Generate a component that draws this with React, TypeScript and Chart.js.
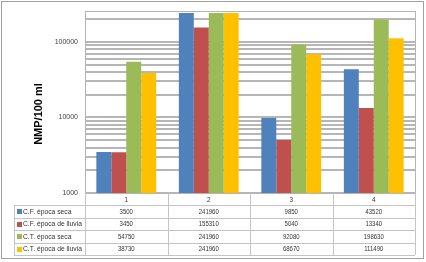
import React, { useEffect, useRef } from 'react';
import { Chart, registerables } from 'chart.js';
Chart.register(...registerables);

const categories = ['1', '2', '3', '4'];
const seriesNames = ['C.F. época seca', 'C.F. época de lluvia', 'C.T. época seca', 'C.T. época de lluvia'];
const cfSeca = [3500, 241960, 9850, 43520];
const cfLluvia = [3450, 155310, 5040, 13340];
const ctSeca = [54750, 241960, 92080, 198630];
const ctLluvia = [38730, 241960, 68670, 111490];
const seriesColors = ['#4F81BD', '#C0504D', '#9BBB59', '#FFC000'];
const yTickLabels = [1000, 10000, 100000];
const yMin = 1000;
const yMax = 255000;
const yTitle = 'NMP/100 ml';

const seriesValues = [cfSeca, cfLluvia, ctSeca, ctLluvia];

export default function App() {
  const ref = useRef<HTMLCanvasElement>(null);
  useEffect(() => {
    document.body.style.margin = '0';
    const gridValues: number[] = [];
    yTickLabels.forEach((d) => {
      for (let s = 1; s <= 9; s++) if (d * s <= yMax) gridValues.push(d * s);
    });

    const drawText = (ctx: CanvasRenderingContext2D, t: string, x: number, y: number, align: CanvasTextAlign, sx: number) => {
      ctx.save();
      ctx.translate(x, y);
      ctx.scale(sx, 1);
      ctx.textAlign = align;
      ctx.fillText(t, 0, 0);
      ctx.restore();
    };

    const tablePlugin = {
      id: 'tablePlugin',
      afterDraw(chart: any) {
        const ctx = chart.ctx as CanvasRenderingContext2D;
        const a = chart.chartArea;
        const colW = a.width / categories.length;
        const tableLeft = 14;
        const headerBottom = a.bottom + 12;
        const rowH = 12.5;
        const tableBottom = headerBottom + rowH * seriesNames.length;
        ctx.save();
        // plot border
        ctx.strokeStyle = '#b4b4b4';
        ctx.lineWidth = 1;
        ctx.strokeRect(Math.round(a.left) + 0.5, Math.round(a.top) + 0.5, Math.round(a.width), Math.round(a.height));
        // table lines
        ctx.strokeStyle = '#c4c4c4';
        ctx.beginPath();
        for (let r = 0; r <= seriesNames.length; r++) {
          const y = Math.round(headerBottom + r * rowH) + 0.5;
          ctx.moveTo(tableLeft, y);
          ctx.lineTo(a.right, y);
        }
        ctx.moveTo(tableLeft + 0.5, headerBottom);
        ctx.lineTo(tableLeft + 0.5, tableBottom);
        for (let c = 0; c <= categories.length; c++) {
          const x = Math.round(a.left + c * colW) + 0.5;
          ctx.moveTo(x, a.bottom);
          ctx.lineTo(x, tableBottom);
        }
        ctx.stroke();
        // text
        ctx.fillStyle = '#333333';
        ctx.font = "7.5px 'Liberation Sans'";
        ctx.textBaseline = 'middle';
        categories.forEach((c, i) => {
          drawText(ctx, c, a.left + (i + 0.5) * colW, a.bottom + 6.5, 'center', 0.85);
        });
        seriesNames.forEach((name, r) => {
          const yc = headerBottom + (r + 0.5) * rowH + 0.5;
          ctx.fillStyle = seriesColors[r];
          ctx.fillRect(17, Math.round(yc - 2.5), 5, 5);
          ctx.fillStyle = '#333333';
          drawText(ctx, name, 23, yc, 'left', 0.9);
          seriesValues[r].forEach((v, i) => {
            drawText(ctx, String(v), a.left + (i + 0.5) * colW, yc, 'center', 0.8);
          });
        });
        // outer border
        ctx.strokeStyle = '#a0a0a0';
        ctx.strokeRect(1.5, 1.5, 422, 257);
        // y title
        ctx.translate(39, 114);
        ctx.rotate(-Math.PI / 2);
        ctx.fillStyle = '#000';
        ctx.font = "bold 11px 'Liberation Sans'";
        ctx.textAlign = 'center';
        ctx.textBaseline = 'middle';
        ctx.fillText(yTitle, 0, 0);
        ctx.restore();
      },
    };

    const chart = new Chart(ref.current as HTMLCanvasElement, {
      type: 'bar',
      data: {
        labels: categories,
        datasets: seriesNames.map((n, i) => ({
          label: n,
          data: seriesValues[i],
          backgroundColor: seriesColors[i],
          borderWidth: 0,
          categoryPercentage: 0.725,
          barPercentage: 1,
        })),
      },
      options: {
        responsive: false,
        animation: false,
        layout: { padding: { left: 0, top: 10, right: 11, bottom: 69 } },
        plugins: { legend: { display: false }, tooltip: { enabled: false } },
        scales: {
          x: { display: false, offset: true },
          y: {
            type: 'logarithmic',
            min: yMin,
            max: yMax,
            afterBuildTicks: (scale: any) => {
              scale.ticks = gridValues.map((v) => ({ value: v }));
            },
            afterFit: (scale: any) => {
              scale.width = 85;
            },
            border: { display: false },
            grid: { color: '#b6b6b6', lineWidth: 2, drawTicks: false },
            ticks: {
              autoSkip: false,
              padding: 7,
              color: '#404040',
              font: { family: 'Liberation Sans', size: 7 },
              callback: (v: any) => (yTickLabels.includes(Number(v)) ? String(v) : ''),
            },
          },
        },
      },
      plugins: [tablePlugin],
    });
    return () => chart.destroy();
  }, []);
  return (
    <div style={{ width: 426, height: 262 }}>
      <canvas ref={ref} width={426} height={262} style={{ display: 'block' }} />
    </div>
  );
}
